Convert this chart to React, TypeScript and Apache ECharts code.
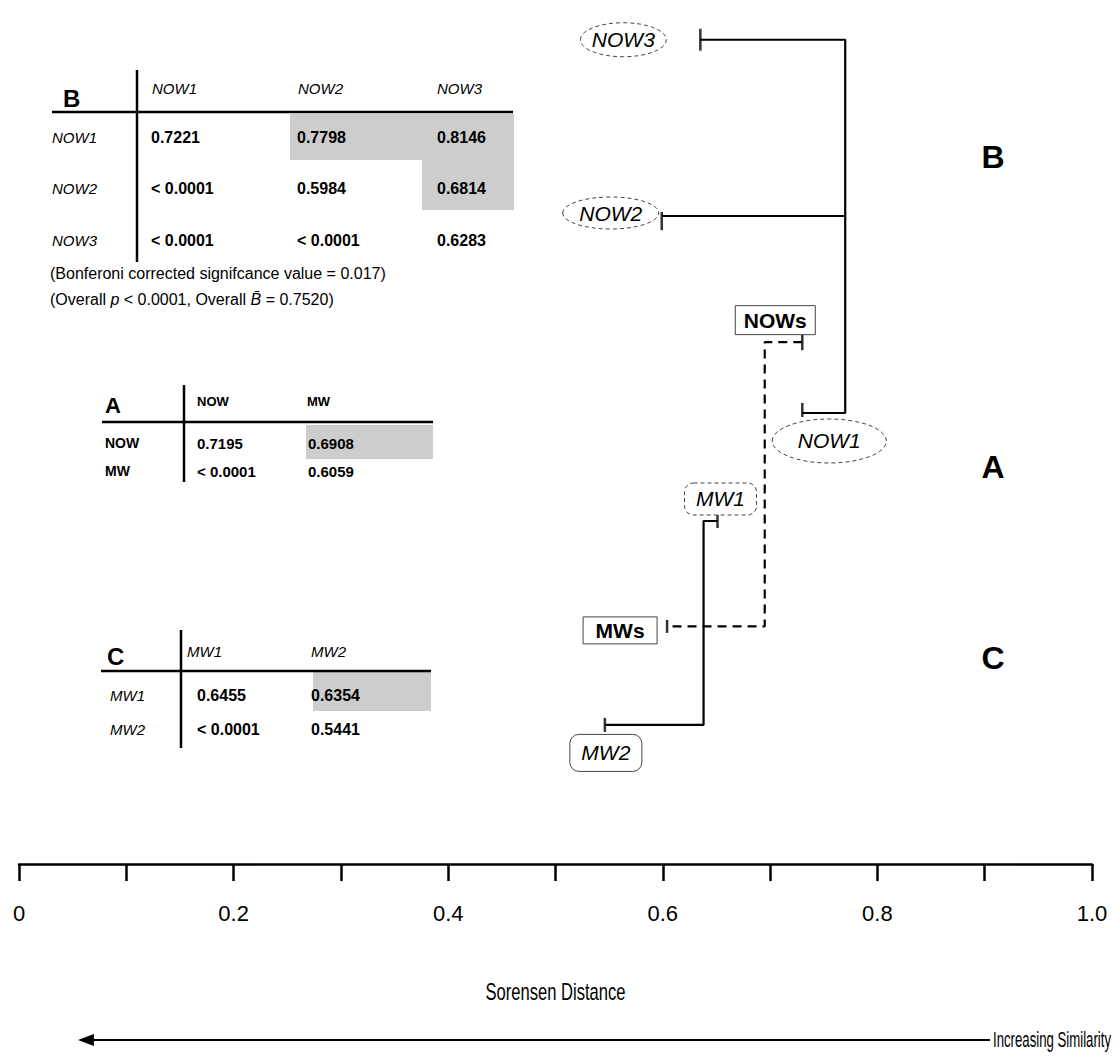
import React, { useEffect, useRef } from "react";
import * as echarts from "echarts";

// ---------------- data ----------------
const AXIS_LABELS = ["0", "0.2", "0.4", "0.6", "0.8", "1.0"];
const AXIS_NAME = "Sorensen Distance";

// dendrogram leaves: name, Sorensen distance at leaf tip, vertical order position (0 top .. 100 axis)
const LEAF_NAMES = ["NOW3", "NOW2", "NOWs", "NOW1", "MW1", "MWs", "MW2"];
const LEAF_DIST = [0.635, 0.599, 0.73, 0.73, 0.651, 0.604, 0.546];
const LEAF_POS = [4.6, 25.0, 39.6, 47.8, 60.3, 72.5, 83.9];

// joins
const JOIN_MEMBERS = [["NOW3", "NOW2", "NOW1"], ["MW1", "MW2"], ["NOWs", "MWs"]];
const JOIN_DIST = [0.77, 0.638, 0.695];
const JOIN_DASHED = [false, false, true];

// tables
const TB_COLS = ["NOW1", "NOW2", "NOW3"];
const TB_ROWS = ["NOW1", "NOW2", "NOW3"];
const TB_VALUES = [
  ["0.7221", "0.7798", "0.8146"],
  ["< 0.0001", "0.5984", "0.6814"],
  ["< 0.0001", "< 0.0001", "0.6283"],
];
const TB_SHADED = [[0, 1], [0, 2], [1, 2]];

const TA_COLS = ["NOW", "MW"];
const TA_ROWS = ["NOW", "MW"];
const TA_VALUES = [
  ["0.7195", "0.6908"],
  ["< 0.0001", "0.6059"],
];
const TA_SHADED = [[0, 1]];

const TC_COLS = ["MW1", "MW2"];
const TC_ROWS = ["MW1", "MW2"];
const TC_VALUES = [
  ["0.6455", "0.6354"],
  ["< 0.0001", "0.5441"],
];
const TC_SHADED = [[0, 1]];

const NOTE_1 = "(Bonferoni corrected signifcance value = 0.017)";
const NOTE_2 = "(Overall {i|p} < 0.0001, Overall {i|B\u0304} = 0.7520)";
const ARROW_TEXT = "Increasing Similarity";

// ---------------- styles / layout ----------------
const FONT = "'Liberation Sans', Arial, Helvetica, sans-serif";

// tick-mark style per leaf: [length, vertical offset]
const TICK_STYLE: Record<string, [number, number]> = {
  NOW3: [22, 0],
  NOW2: [18, 5],
  NOWs: [16, 0],
  NOW1: [14, -3],
  MW1: [14, 0],
  MWs: [13, 0],
  MW2: [14, 0],
};

// leaf label frames, offsets relative to leaf tip (px)
const LABEL_STYLE: Record<string, any> = {
  NOW3: { kind: "ellipse", dx: -77, dy: 0, w: 86, h: 34, italic: true, bold: false },
  NOW2: { kind: "ellipse", dx: -51, dy: -3, w: 96, h: 32, italic: true, bold: false },
  NOW1: { kind: "ellipse", dx: 27, dy: 28, w: 114, h: 44, italic: true, bold: false },
  NOWs: { kind: "box", dx: -27, dy: -22, w: 80, h: 29, italic: false, bold: true },
  MW1: { kind: "rrectDash", dx: 3, dy: -22, w: 72, h: 32, italic: true, bold: false },
  MWs: { kind: "box", dx: -47, dy: 4, w: 74, h: 27, italic: false, bold: true },
  MW2: { kind: "rrect", dx: 1, dy: 28, w: 72, h: 37, italic: true, bold: false },
};

const TABLE_LAYOUTS = [
  {
    title: "B", titleX: 63, titleY: 98, titleSize: 24,
    cols: TB_COLS, rows: TB_ROWS, values: TB_VALUES, shaded: TB_SHADED,
    headerY: 88, headerX: [152, 298, 437], valueX: [151, 297, 437],
    headerItalic: true, headerBold: false, headerSize: 15,
    rowLabelX: 52, rowY: [137, 188, 240], rowItalic: true, rowBold: false, rowSize: 15,
    valueSize: 16,
    hLine: [52, 112, 513], vLine: [137, 70, 262],
    colShade: [[0, 0], [290, 422], [422, 514]], rowShade: [[114, 160], [160, 210], [210, 260]],
  },
  {
    title: "A", titleX: 105, titleY: 405, titleSize: 22,
    cols: TA_COLS, rows: TA_ROWS, values: TA_VALUES, shaded: TA_SHADED,
    headerY: 401, headerX: [197, 307], valueX: [197, 308],
    headerItalic: false, headerBold: true, headerSize: 13,
    rowLabelX: 105, rowY: [443, 471], rowItalic: false, rowBold: true, rowSize: 14,
    valueSize: 15,
    hLine: [102, 422, 433], vLine: [184, 385, 482],
    colShade: [[0, 0], [306, 433]], rowShade: [[425, 459], [459, 485]],
  },
  {
    title: "C", titleX: 107, titleY: 656, titleSize: 24,
    cols: TC_COLS, rows: TC_ROWS, values: TC_VALUES, shaded: TC_SHADED,
    headerY: 651, headerX: [187, 311], valueX: [197, 311],
    headerItalic: true, headerBold: false, headerSize: 15,
    rowLabelX: 110, rowY: [695, 729], rowItalic: true, rowBold: false, rowSize: 15,
    valueSize: 16,
    hLine: [101, 671, 431], vLine: [181, 630, 748],
    colShade: [[0, 0], [313, 431]], rowShade: [[672, 711], [711, 745]],
  },
];

function txt(text: string, x: number, y: number, o: any = {}) {
  const style = {
    text,
    x: 0,
    y: 0,
    fill: "#000",
    fontFamily: o.family || FONT,
    fontSize: o.size || 16,
    fontWeight: o.bold ? "bold" : "normal",
    fontStyle: o.italic ? "italic" : "normal",
    textAlign: o.align || "left",
    textVerticalAlign: "middle",
    rich: o.rich,
  };
  return {
    type: "text",
    silent: true,
    z: 20,
    x,
    y,
    scaleX: o.scaleX || 1,
    style,
  };
}

function tableGraphics(t: any) {
  const els: any[] = [];
  t.shaded.forEach(([r, c]: number[]) => {
    const [x0, x1] = t.colShade[c];
    const [y0, y1] = t.rowShade[r];
    els.push({
      type: "rect",
      silent: true,
      z: 5,
      shape: { x: x0, y: y0, width: x1 - x0, height: y1 - y0 },
      style: { fill: "#cdcdcd", stroke: null },
    });
  });
  els.push({
    type: "line", silent: true, z: 10,
    shape: { x1: t.hLine[0], y1: t.hLine[1], x2: t.hLine[2], y2: t.hLine[1] },
    style: { stroke: "#000", lineWidth: 2.5 },
  });
  els.push({
    type: "line", silent: true, z: 10,
    shape: { x1: t.vLine[0], y1: t.vLine[1], x2: t.vLine[0], y2: t.vLine[2] },
    style: { stroke: "#000", lineWidth: 2.5 },
  });
  els.push(txt(t.title, t.titleX, t.titleY, { size: t.titleSize, bold: true }));
  t.cols.forEach((c: string, i: number) => {
    els.push(txt(c, t.headerX[i], t.headerY, { size: t.headerSize, italic: t.headerItalic, bold: t.headerBold }));
  });
  t.rows.forEach((r: string, i: number) => {
    els.push(txt(r, t.rowLabelX, t.rowY[i], { size: t.rowSize, italic: t.rowItalic, bold: t.rowBold }));
    t.values[i].forEach((v: string, j: number) => {
      els.push(txt(v, t.valueX[j], t.rowY[i], { size: t.valueSize, bold: true }));
    });
  });
  return els;
}

export default function App() {
  const ref = useRef<HTMLDivElement>(null);

  useEffect(() => {
    document.body.style.margin = "0";
    const chart = echarts.init(ref.current!, null, { renderer: "svg" });

    const leafIndex = (n: string) => LEAF_NAMES.indexOf(n);

    const series: any[] = [];
    JOIN_MEMBERS.forEach((members, j) => {
      const idx = members.map(leafIndex).sort((a, b) => LEAF_POS[a] - LEAF_POS[b]);
      const first = idx[0];
      const last = idx[idx.length - 1];
      const d = JOIN_DIST[j];
      const lineStyle = {
        color: "#000",
        width: 2.2,
        type: JOIN_DASHED[j] ? [9, 6] : "solid",
      };
      series.push({
        type: "line",
        silent: true,
        symbol: "none",
        lineStyle,
        data: [
          [LEAF_DIST[first], LEAF_POS[first]],
          [d, LEAF_POS[first]],
          [d, LEAF_POS[last]],
          [LEAF_DIST[last], LEAF_POS[last]],
        ],
      });
      idx.slice(1, -1).forEach((m) => {
        series.push({
          type: "line",
          silent: true,
          symbol: "none",
          lineStyle,
          data: [
            [LEAF_DIST[m], LEAF_POS[m]],
            [d, LEAF_POS[m]],
          ],
        });
      });
    });

    series.push({
      type: "scatter",
      silent: true,
      symbol: "rect",
      itemStyle: { color: "#000" },
      data: LEAF_NAMES.map((n, i) => ({
        value: [LEAF_DIST[i], LEAF_POS[i]],
        symbolSize: [2.5, TICK_STYLE[n][0]],
        symbolOffset: [0, TICK_STYLE[n][1]],
      })),
    });

    chart.setOption({
      animation: false,
      backgroundColor: "#fff",
      grid: { left: 19, right: 21, top: 0, bottom: 193, containLabel: false },
      xAxis: {
        type: "value",
        min: 0,
        max: 1,
        interval: 0.1,
        position: "bottom",
        axisLine: { show: true, onZero: false, lineStyle: { color: "#000", width: 2.5 } },
        axisTick: { show: true, length: 17, lineStyle: { color: "#000", width: 2.5 } },
        splitLine: { show: false },
        axisLabel: {
          margin: 38,
          color: "#000",
          fontSize: 22,
          fontFamily: FONT,
          showMinLabel: true,
          showMaxLabel: true,
          formatter: (v: number) => {
            const k = Math.round(v * 10);
            return k % 2 === 0 ? AXIS_LABELS[k / 2] : "";
          },
        },
      },
      yAxis: { type: "value", min: 0, max: 100, inverse: true, show: false },
      series,
    });

    // annotations
    const g: any[] = [];
    TABLE_LAYOUTS.forEach((t) => g.push(...tableGraphics(t)));
    g.push(txt(NOTE_1, 50, 273, { size: 16 }));
    g.push(txt(NOTE_2, 50, 299, { size: 16, rich: { i: { fontStyle: "italic", fontSize: 16, fontFamily: FONT } } }));

    // right-side group labels
    g.push(txt("B", 993, 157, { size: 32, bold: true, align: "center" }));
    g.push(txt("A", 993, 467, { size: 32, bold: true, align: "center" }));
    g.push(txt("C", 993, 658, { size: 32, bold: true, align: "center" }));

    // leaf labels
    LEAF_NAMES.forEach((n, i) => {
      const p = chart.convertToPixel({ gridIndex: 0 }, [LEAF_DIST[i], LEAF_POS[i]]) as number[];
      const s = LABEL_STYLE[n];
      const cx = p[0] + s.dx;
      const cy = p[1] + s.dy;
      if (s.kind === "ellipse") {
        g.push({
          type: "ellipse", silent: true, z: 8,
          shape: { cx, cy, rx: s.w / 2, ry: s.h / 2 },
          style: { fill: "#fff", stroke: "#444", lineWidth: 1, lineDash: [4, 3] },
        });
      } else {
        g.push({
          type: "rect", silent: true, z: 8,
          shape: { x: cx - s.w / 2, y: cy - s.h / 2, width: s.w, height: s.h, r: s.kind === "box" ? 0 : 9 },
          style: {
            fill: "#fff",
            stroke: "#444",
            lineWidth: 1,
            lineDash: s.kind === "rrectDash" ? [4, 3] : null,
          },
        });
      }
      g.push(txt(n, cx, cy, { size: 21, italic: s.italic, bold: s.bold, align: "center" }));
    });

    // axis title (condensed, centred on 0.5)
    const mid = chart.convertToPixel({ gridIndex: 0 }, [0.5, 0]) as number[];
    g.push(txt(AXIS_NAME, mid[0], 992, { size: 23, align: "center", scaleX: 0.72 }));

    // similarity arrow
    g.push({
      type: "line", silent: true,
      shape: { x1: 990, y1: 1040, x2: 86, y2: 1040 },
      style: { stroke: "#000", lineWidth: 2 },
    });
    g.push({
      type: "polygon", silent: true,
      shape: { points: [[78, 1040], [94, 1034], [94, 1046]] },
      style: { fill: "#000" },
    });
    g.push(txt(ARROW_TEXT, 1111, 1040, { size: 22, align: "right", scaleX: 0.6 }));

    chart.setOption({ graphic: { elements: g } });

    return () => chart.dispose();
  }, []);

  return (
    <div
      ref={ref}
      style={{ position: "absolute", left: 0, top: 0, width: 1113, height: 1057, background: "#fff" }}
    />
  );
}
